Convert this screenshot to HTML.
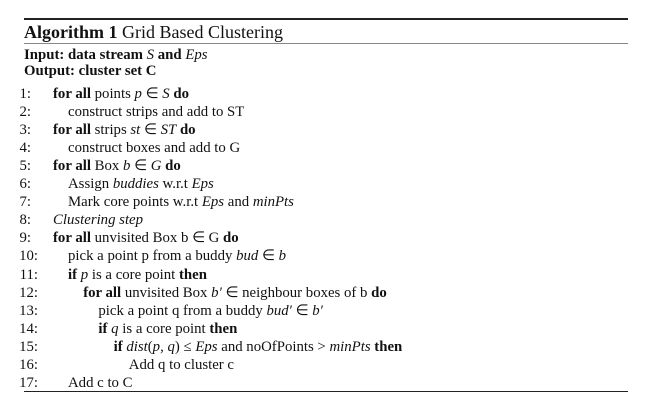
<!DOCTYPE html>
<html><head><meta charset="utf-8"><style>
body{margin:0;width:666px;height:405px;background:#fff;position:relative;overflow:hidden;font-family:"Liberation Serif",serif;color:#111}
.r{position:absolute;left:24px;width:604px}
.t{position:absolute;white-space:nowrap;font-size:14.8px;line-height:16px}
.n{position:absolute;font-size:14.8px;line-height:16px;text-align:right;width:40px;left:-1px}
i{font-style:italic}
</style></head><body>
<div class="r" style="top:18px;height:1.5px;background:#222"></div>
<div class="t" style="left:24px;top:22px;font-size:18px;line-height:20px"><b>Algorithm 1</b> Grid Based Clustering</div>
<div class="r" style="top:43px;height:1px;background:#888"></div>
<div class="t" style="left:24px;top:47px"><b>Input: data stream </b><i>S</i><b> and </b><i>Eps</i></div>
<div class="t" style="left:24px;top:63px"><b>Output: cluster set C</b></div>
<div id="lines"></div>
<div class="r" style="top:391px;height:1px;background:#222"></div>
<script>
const steps=[
[0,'<b>for all</b> points <i>p</i> ∈ <i>S</i> <b>do</b>'],
[1,'construct strips and add to ST'],
[0,'<b>for all</b> strips <i>st</i> ∈ <i>ST</i> <b>do</b>'],
[1,'construct boxes and add to G'],
[0,'<b>for all</b> Box <i>b</i> ∈ <i>G</i> <b>do</b>'],
[1,'Assign <i>buddies</i> w.r.t <i>Eps</i>'],
[1,'Mark core points w.r.t <i>Eps</i> and <i>minPts</i>'],
[0,'<i>Clustering step</i>'],
[0,'<b>for all</b> unvisited Box b ∈ G <b>do</b>'],
[1,'pick a point p from a buddy <i>bud</i> ∈ <i>b</i>'],
[1,'<b>if</b> <i>p</i> is a core point <b>then</b>'],
[2,'<b>for all</b> unvisited Box <i>b′</i> ∈ neighbour boxes of b <b>do</b>'],
[3,'pick a point q from a buddy <i>bud′</i> ∈ <i>b′</i>'],
[3,'<b>if</b> <i>q</i> is a core point <b>then</b>'],
[4,'<b>if</b> <i>dist</i>(<i>p</i>, <i>q</i>) ≤ <i>Eps</i> and noOfPoints &gt; <i>minPts</i> <b>then</b>'],
[5,'Add q to cluster c'],
[1,'Add c to C']
];
const c=document.getElementById('lines');
steps.forEach((s,i)=>{
  const y=86+i*18.05;
  const n=document.createElement('div');
  n.className='n';
  
  
  n.style.top=y+'px';
  n.style.width=(i<9?32:39)+'px';
  n.textContent=(i+1)+':';
  c.appendChild(n);
  const t=document.createElement('div');
  t.className='t';
  
  
  t.style.top=y+'px';
  t.style.left=(s[0]===0?53:68+(s[0]-1)*15.2)+'px';
  t.innerHTML=s[1];
  c.appendChild(t);
});
</script>
</body></html>
